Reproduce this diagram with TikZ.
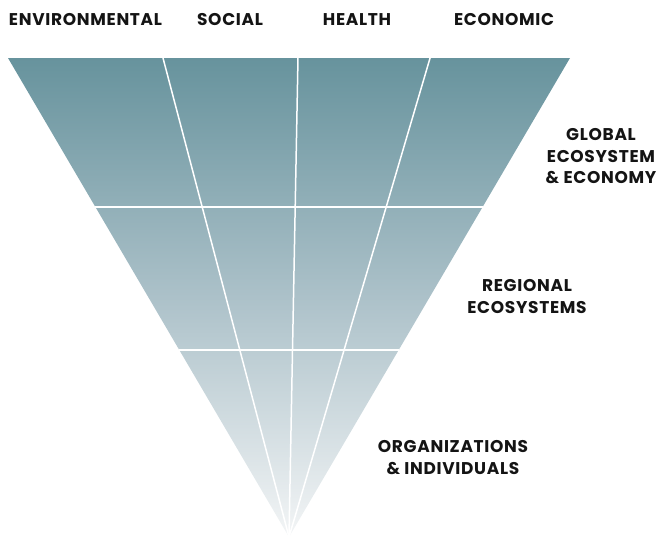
\documentclass[tikz,border=0pt]{standalone}
\usepackage{fontspec}
\setmainfont{Poppins}
\definecolor{fantop}{RGB}{103,147,157}
\definecolor{fanmid}{RGB}{172,193,201}
\definecolor{fanbottom}{RGB}{243,245,246}
\definecolor{labelblack}{RGB}{20,20,20}
\tikzset{every picture/.style={/utils/exec={\bfseries}}}
\usetikzlibrary{calc}

\begin{document}
\begin{tikzpicture}[x=1pt, y=-1pt,
    toplabel/.style={anchor=base, text=labelblack, inner sep=0pt, font=\fontsize{17}{21.7}\selectfont\bfseries\addfontfeatures{LetterSpace=4}},
    sidelabel/.style={anchor=north, align=center, text=labelblack, inner sep=0pt, font=\fontsize{17}{21.7}\selectfont\bfseries\addfontfeatures{LetterSpace=4}},
    divider/.style={white, line width=1.8pt}]
  \useasboundingbox (0,0) rectangle (662,539);

  \coordinate (tl) at (8,58);
  \coordinate (tr) at (570,58);
  \coordinate (apex) at (289,537);

  % shaded funnel
  \shade [top color=fantop, bottom color=fanbottom, middle color=fanmid] (tl) -- (tr) -- (apex) -- cycle;

  % level dividers
  \draw [divider] ($(tl)!0.311!(apex)$) -- ($(tr)!0.311!(apex)$);
  \draw [divider] ($(tl)!0.6096!(apex)$) -- ($(tr)!0.6096!(apex)$);

  % columns meeting in the apex
  \foreach \f/\n in {0.2758/a, 0.516/b, 0.751/c} {
    \coordinate (col\n) at ($(tl)!\f!(tr)$);
    \draw [divider, line width=1.5pt] (col\n) -- (apex);
  }

  \node [toplabel] (environmental) at (85.5,25) {ENVIRONMENTAL};
  \node [toplabel] (social) at (230,25) {SOCIAL};
  \node [toplabel] (health) at (357,25) {HEALTH};
  \node [toplabel] (economic) at (504,25) {ECONOMIC};

  \node [sidelabel] (global) at (601,128) {GLOBAL\\ECOSYSTEM\\\& ECONOMY};
  \node [sidelabel] (regional) at (527,279) {REGIONAL\\ECOSYSTEMS};
  \node [sidelabel] (organizations) at (453,440) {ORGANIZATIONS\\\& INDIVIDUALS};

\end{tikzpicture}
\end{document}
